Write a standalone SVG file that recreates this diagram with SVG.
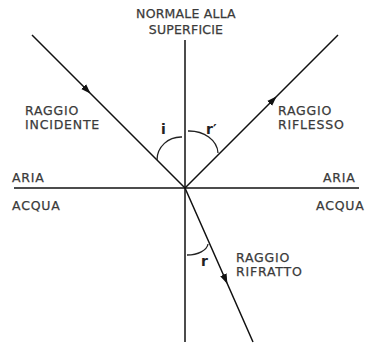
<svg xmlns="http://www.w3.org/2000/svg" width="365" height="345" viewBox="0 0 365 345">
<style>
.ln{stroke:#111;stroke-width:1.5;fill:none}
.arc{stroke:#222;stroke-width:1.3;fill:none}
.t{font-family:"DejaVu Sans",Verdana,sans-serif;font-size:12.5px;fill:#3a3a3a;stroke:#3a3a3a;stroke-width:0.25;letter-spacing:0.8px}
.s{font-family:"DejaVu Sans",Verdana,sans-serif;font-size:14px;fill:#222;font-weight:bold}
</style>
<defs>
<marker id="ah" markerWidth="10" markerHeight="8" refX="9" refY="4" orient="auto" markerUnits="userSpaceOnUse">
<path d="M0,0.5 L10,4 L0,7.5 Z" fill="#111"/>
</marker>
</defs>
<rect width="365" height="345" fill="#fff"/>
<g id="axes">
<line class="ln" x1="185" y1="40" x2="185" y2="342"/>
<line class="ln" x1="14" y1="188" x2="359" y2="188"/>
</g>
<g id="connectors">
<path id="incidente" class="ln" d="M32,35 L90,93 L185,188" marker-mid="url(#ah)"/>
<path id="riflesso" class="ln" d="M185,188 L276,97 L338,35" marker-mid="url(#ah)"/>
<path id="rifratto" class="ln" d="M185,188 L227,283 L253,342" marker-mid="url(#ah)"/>
</g>
<g id="angles">
<path class="arc" d="M157,160 A24,23 0 0 1 182,137"/>
<path class="arc" d="M188,131 A29,23 0 0 1 218,153"/>
<path class="arc" d="M187,255 A21,12 0 0 0 208,244"/>
<text class="s" x="161" y="134">i</text>
<text class="s" x="206" y="134">r′</text>
<text class="s" x="201" y="266">r</text>
</g>
<g id="labels">
<text class="t" x="186" y="18" text-anchor="middle" style="letter-spacing:0.2px">NORMALE ALLA</text>
<text class="t" x="186" y="34" text-anchor="middle" style="letter-spacing:0.2px">SUPERFICIE</text>
<text class="t" x="25" y="115">RAGGIO</text>
<text class="t" x="25" y="129">INCIDENTE</text>
<text class="t" x="278" y="115">RAGGIO</text>
<text class="t" x="278" y="129">RIFLESSO</text>
<text class="t" x="12" y="182">ARIA</text>
<text class="t" x="12" y="210">ACQUA</text>
<text class="t" x="323" y="182">ARIA</text>
<text class="t" x="316" y="210">ACQUA</text>
<text class="t" x="236" y="262">RAGGIO</text>
<text class="t" x="236" y="276">RIFRATTO</text>
</g>
</svg>
